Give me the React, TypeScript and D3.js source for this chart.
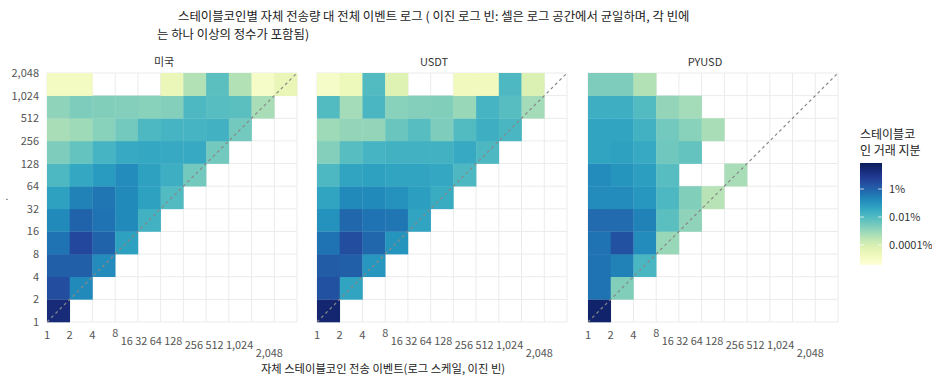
import React from 'react';
import * as d3 from 'd3';

// Bin edges shared by both axes (binary log bins) and their tick labels
const BIN_EDGES = [1, 2, 4, 8, 16, 32, 64, 128, 256, 512, 1024, 2048];
const TICK_LABELS = ['1', '2', '4', '8', '16', '32', '64', '128', '256', '512', '1,024', '2,048'];
const PANEL_NAMES = ['미국', 'USDT', 'PYUSD'];

// Share of trades (%) per cell. Rows: total-event bin from 1 upward; columns: self-transfer bin from 1 upward.
// null = no trades in that cell.
const US_SHARE: (number | null)[][] = [
  [22],
  [2.5, 0.17],
  [1.1, 1.1, 0.15],
  [0.47, 3.5, 0.92, 0.053],
  [0.17, 0.92, 0.47, 0.17, 0.019],
  [0.053, 0.24, 0.4, 0.17, 0.053, 0.01],
  [0.012, 0.038, 0.074, 0.15, 0.053, 0.023, 0.0031],
  [0.0022, 0.005, 0.016, 0.032, 0.038, 0.032, 0.032, 0.0031],
  [0.00057, 0.0008, 0.0016, 0.0031, 0.012, 0.016, 0.016, 0.019, 0.0031],
  [0.0013, 0.0022, 0.002, 0.0019, 0.0016, 0.0019, 0.012, 0.0083, 0.0071, 0.00057],
  [0.000014, 0.000014, null, null, null, 0.000028, 0.00041, 0.0071, 0.00041, 0.00001, 0.000033],
];
const USDT_SHARE: (number | null)[][] = [
  [32],
  [2.1, 0.045],
  [1.3, 1.1, 0.088],
  [0.47, 2.5, 0.78, 0.1],
  [0.12, 0.78, 0.47, 0.4, 0.045],
  [0.045, 0.17, 0.17, 0.12, 0.063, 0.027],
  [0.012, 0.045, 0.053, 0.045, 0.045, 0.038, 0.012],
  [0.0019, 0.0083, 0.016, 0.019, 0.019, 0.019, 0.032, 0.012],
  [0.0008, 0.0011, 0.0011, 0.0043, 0.0083, 0.0022, 0.01, 0.023, 0.014],
  [0.01, 0.00068, 0.014, 0.0016, 0.0019, 0.002, 0.00095, 0.016, 0.0083, 0.00068],
  [0.00001, 0.000023, 0.01, 0.000065, null, null, 0.000017, 0.000017, 0.012, 0.000076, null],
];
const PYUSD_SHARE: (number | null)[][] = [
  [37],
  [0.47, 0.002],
  [0.47, 0.24, 0.014],
  [0.47, 2.1, 0.15, 0.00095],
  [0.66, 0.66, 0.24, 0.0071, 0.0013],
  [0.15, 0.15, 0.088, 0.012, 0.002, 0.00035],
  [0.15, 0.1, 0.063, 0.0083, null, null, 0.00057],
  [0.045, 0.053, 0.032, 0.0036, 0.005],
  [0.045, 0.045, 0.019, 0.0031, 0.0016, 0.00057],
  [0.023, 0.023, 0.01, 0.0011, 0.00068],
  [0.0022, 0.0022, 0.00041],
];
const PANEL_DATA = [US_SHARE, USDT_SHARE, PYUSD_SHARE];

const LEGEND_TICKS = [1, 0.01, 0.0001];
const LEGEND_LABELS = ['1%', '0.01%', '0.0001%'];
const COLOR_EXTENT = [Math.pow(10, -5.43), Math.pow(10, 1.86)];

const TITLE_LINE_1 = '스테이블코인별 자체 전송량 대 전체 이벤트 로그 ( 이진 로그 빈: 셀은 로그 공간에서 균일하며, 각 빈에';
const TITLE_LINE_2 = '는 하나 이상의 정수가 포함됨)';
const X_TITLE = '자체 스테이블코인 전송 이벤트(로그 스케일, 이진 빈)';
const LEGEND_TITLE = ['스테이블코', '인 거래 지분'];

// layout
const W = 932;
const H = 381;
const PANEL_LEFT = [47, 317, 588];
const PANEL_W = 250;
const PLOT_TOP = 73;
const PLOT_BOTTOM = 322;
const FONT = "'Noto Sans CJK KR', 'Noto Sans', sans-serif";
// baselines of the x tick labels (stacked where they crowd)
const X_LABEL_BASE = [339, 339, 339, 337, 345, 345, 345, 345, 349, 349, 349, 357];

const color = d3.scaleSequentialLog(d3.interpolateYlGnBu).domain(COLOR_EXTENT as [number, number]).clamp(true);
const yScale = d3.scaleLog().base(2).domain([1, 2048]).range([PLOT_BOTTOM, PLOT_TOP]);

function Panel({ index }: { index: number }) {
  const left = PANEL_LEFT[index];
  const x = d3.scaleLog().base(2).domain([1, 2048]).range([left, left + PANEL_W]);
  const rows = PANEL_DATA[index];
  const cells: React.ReactNode[] = [];
  rows.forEach((row, r) => {
    row.forEach((v, c) => {
      if (v == null) return;
      const x0 = x(BIN_EDGES[c]);
      const x1 = x(BIN_EDGES[c + 1]);
      const y0 = yScale(BIN_EDGES[r + 1]);
      const y1 = yScale(BIN_EDGES[r]);
      cells.push(
        <rect key={`${r}-${c}`} x={x0} y={y0} width={x1 - x0 + 0.3} height={y1 - y0 + 0.3} fill={color(v)} />
      );
    });
  });
  const grid = BIN_EDGES.map((e, i) => (
    <g key={i}>
      <line x1={x(e)} x2={x(e)} y1={PLOT_TOP} y2={PLOT_BOTTOM} stroke="#ebebeb" strokeWidth={1} />
      <line x1={left} x2={left + PANEL_W} y1={yScale(e)} y2={yScale(e)} stroke="#ebebeb" strokeWidth={1} />
    </g>
  ));
  const spans = TICK_LABELS.slice(3).map((t, i) => (
    <tspan key={t} y={X_LABEL_BASE[i + 3]}>{(i === 0 ? '' : '\u00a0') + t}</tspan>
  ));
  return (
    <g>
      {grid}
      {cells}
      <line
        x1={x(1)}
        y1={yScale(1)}
        x2={x(2048)}
        y2={yScale(2048)}
        stroke="#888"
        strokeWidth={1.2}
        strokeDasharray="3,3"
      />
      <text x={left + PANEL_W / 2 - 8} y={66} textAnchor="middle" fontSize={11} fill="#333">
        {PANEL_NAMES[index]}
      </text>
      {TICK_LABELS.slice(0, 3).map((t, i) => (
        <text key={t} x={x(BIN_EDGES[i])} y={X_LABEL_BASE[i]} textAnchor="middle" fontSize={11.2} fill="#555">
          {t}
        </text>
      ))}
      <text x={x(8) - 3} fontSize={10.9} fill="#555" style={{ whiteSpace: 'pre' }}>
        {spans}
      </text>
    </g>
  );
}

export default function App() {
  const legendY = d3.scaleLog().domain(COLOR_EXTENT as [number, number]).range([265, 163]);
  const stops = d3.range(0, 1.0001, 0.05).map((t) => {
    const v = Math.pow(10, Math.log10(COLOR_EXTENT[0]) + t * (Math.log10(COLOR_EXTENT[1]) - Math.log10(COLOR_EXTENT[0])));
    return { offset: t, c: color(v) };
  });
  return (
    <svg
      width={W}
      height={H}
      viewBox={`0 0 ${W} ${H}`}
      style={{ position: 'absolute', left: 0, top: 0, background: '#fff', fontFamily: FONT }}
    >
      <defs>
        <linearGradient id="shareGradient" x1="0" y1="1" x2="0" y2="0">
          {stops.map((s, i) => (
            <stop key={i} offset={s.offset} stopColor={s.c} />
          ))}
        </linearGradient>
      </defs>
      <rect width={W} height={H} fill="#fff" />
      <text x={178} y={21} fontSize={12.4} fill="#222">{TITLE_LINE_1}</text>
      <text x={157} y={39} fontSize={12.4} fill="#222">{TITLE_LINE_2}</text>

      {PANEL_NAMES.map((_, i) => (
        <Panel key={i} index={i} />
      ))}

      {/* y axis ticks (first panel only) */}
      {BIN_EDGES.map((e, i) => (
        <text key={e} x={39} y={yScale(e) + 4} textAnchor="end" fontSize={11} fill="#555">
          {TICK_LABELS[i]}
        </text>
      ))}
      <text x={7} y={200} fontSize={10} fill="#444" textAnchor="middle">.</text>

      <text x={383} y={373} textAnchor="middle" fontSize={11.3} fill="#222">{X_TITLE}</text>

      {/* colour bar */}
      <text x={860} y={139} fontSize={12} fill="#222">{LEGEND_TITLE[0]}</text>
      <text x={860} y={155} fontSize={12} fill="#222">{LEGEND_TITLE[1]}</text>
      <rect x={860} y={163} width={22} height={102} fill="url(#shareGradient)" />
      {LEGEND_TICKS.map((t, i) => (
        <g key={t}>
          <line x1={860} x2={864} y1={legendY(t)} y2={legendY(t)} stroke="#fff" strokeOpacity={0.7} />
          <line x1={878} x2={882} y1={legendY(t)} y2={legendY(t)} stroke="#fff" strokeOpacity={0.7} />
          <text x={889} y={legendY(t) + 4} fontSize={11} fill="#333">
            {LEGEND_LABELS[i]}
          </text>
        </g>
      ))}
    </svg>
  );
}
